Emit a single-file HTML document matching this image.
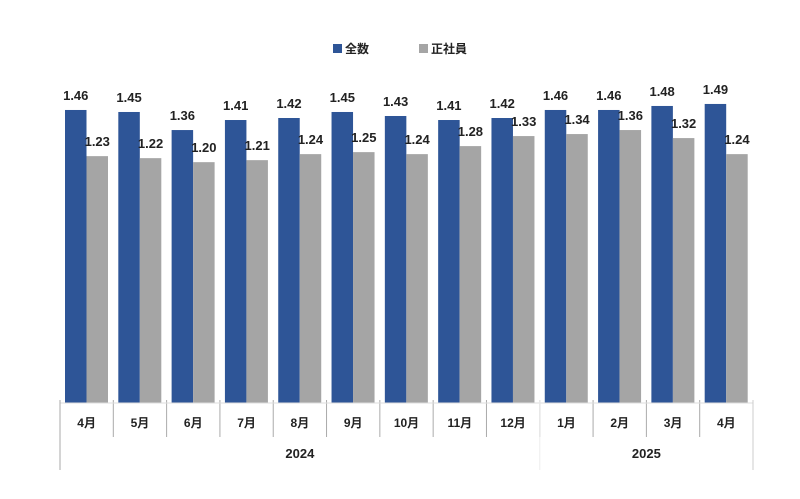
<!DOCTYPE html>
<html><head><meta charset="utf-8"><style>
body{margin:0;background:#fff;font-family:"Liberation Sans","Noto Sans CJK JP",sans-serif;}
svg text{font-family:"Liberation Sans","Noto Sans CJK JP",sans-serif;font-weight:bold;fill:#222;}
</style></head><body>
<svg id="chart" width="800" height="494" xmlns="http://www.w3.org/2000/svg">
<g>
<rect x="333" y="44" width="9" height="9" fill="#2E5597"/>
<text x="345" y="53" font-size="12">全数</text>
<rect x="419" y="44" width="9" height="9" fill="#A5A5A5"/>
<text x="431" y="53" font-size="12">正社員</text>
</g>
<g id="bars"></g>
<g id="axis"></g>
</svg>
<script>
const months = ["4月","5月","6月","7月","8月","9月","10月","11月","12月","1月","2月","3月","4月"];
const totalValues = [1.46,1.45,1.36,1.41,1.42,1.45,1.43,1.41,1.42,1.46,1.46,1.48,1.49];
const fulltimeValues = [1.23,1.22,1.20,1.21,1.24,1.25,1.24,1.28,1.33,1.34,1.36,1.32,1.24];
const years = ["2024","2025"];
const yearSpans = [[0,9],[9,13]];

const x0=60, x1=753, baseY=403, scale=200.7;
const gw=(x1-x0)/months.length;
const xGroup=i=>x0+i*gw;
const yVal=v=>baseY-v*scale;
const NS="http://www.w3.org/2000/svg";
const bars=document.getElementById('bars'), axis=document.getElementById('axis');
function mk(tag,attrs,parent,text){const e=document.createElementNS(NS,tag);for(const k in attrs)e.setAttribute(k,attrs[k]);if(text!==undefined)e.textContent=text;parent.appendChild(e);return e;}

months.forEach((m,i)=>{
  const gx=xGroup(i), bw=21.5;
  const series=[[totalValues[i],'#2E5597',gx+5,'total'],[fulltimeValues[i],'#A5A5A5',gx+5+bw,'fulltime']];
  series.forEach(([v,c,bx,nm])=>{
    const r=mk('rect',{x:bx,y:yVal(v),width:bw,height:v*scale,fill:c},bars);
    
    
    const t=mk('text',{x:bx+bw/2,y:yVal(v)-10,'text-anchor':'middle','font-size':'13'},bars,v.toFixed(2));
    
    
  });
  const l=mk('text',{x:gx+gw/2,y:427,'text-anchor':'middle','font-size':'12'},axis,m);
  
  
  if(i>0){
    const s=mk('line',{x1:gx,x2:gx,y1:400,y2:437,stroke:'#aaa','stroke-width':1},axis);
    
    
  }
});
const bl=mk('line',{x1:x0,x2:x1,y1:baseY,y2:baseY,stroke:'#ddd','stroke-width':1},axis);


years.forEach((y,k)=>{
  const a=xGroup(yearSpans[k][0]), b=xGroup(yearSpans[k][1]);
  const t=mk('text',{x:(a+b)/2,y:458,'text-anchor':'middle','font-size':'13'},axis,y);
  
  
  const s=mk('line',{x1:a,x2:a,y1:400,y2:470,stroke:k==0?'#aaa':'#eee','stroke-width':1},axis);
  
  
});
const e=mk('line',{x1:x1,x2:x1,y1:400,y2:470,stroke:'#ccc','stroke-width':1},axis);


</script>
</body></html>
